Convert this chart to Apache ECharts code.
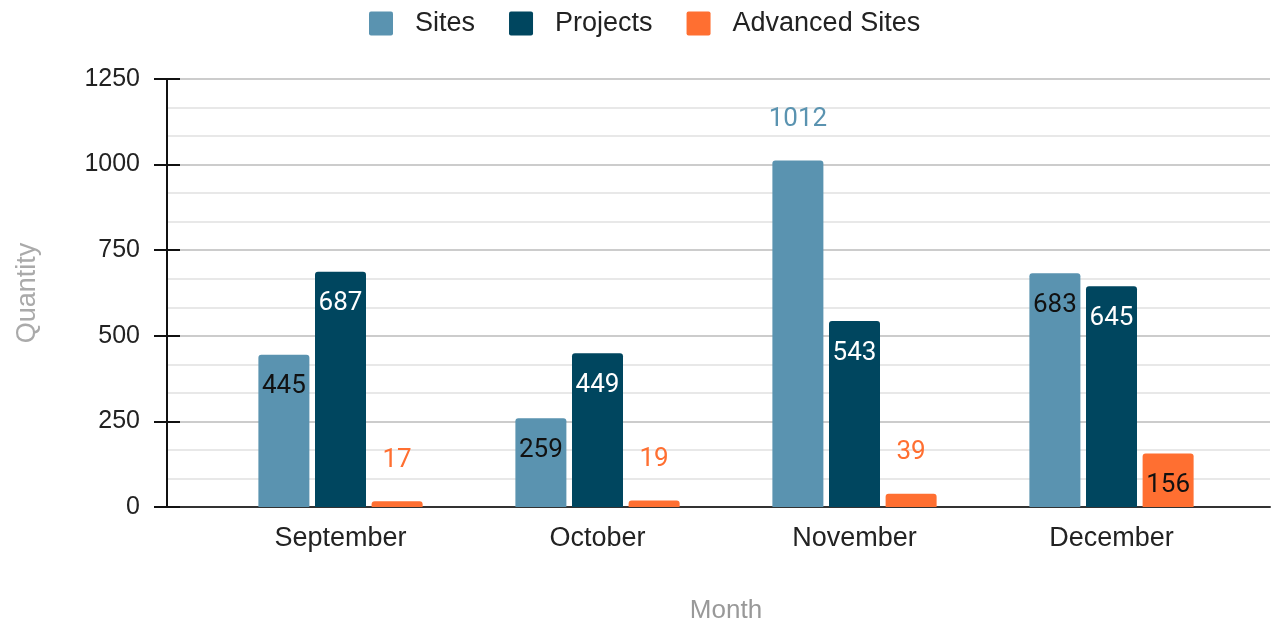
<!DOCTYPE html>
<html>
<head>
<meta charset="utf-8">
<script src="https://cdn.jsdelivr.net/npm/echarts@6/dist/echarts.min.js"></script>
<style>
	html, body { margin: 0; padding: 0; background: #fff; }
	#chart { width: 1272px; height: 621px; }
</style>
</head>
<body>
<div id="chart"></div>
<script type="text/javascript">
	// data
	var months = ['September', 'October', 'November', 'December'];
	var sites = [445, 259, 1012, 683];
	var projects = [687, 449, 543, 645];
	var advancedSites = [17, 19, 39, 156];
	var yTicks = [0, 250, 500, 750, 1000, 1250];

	var colors = ['#5a93b0', '#00465f', '#ff6f31'];
	// which bars carry their label above instead of inside
	var outside = [[2], [], [0, 1, 2]];
	var insideColor = ['#111', '#fff', '#111'];
	var axisFont = 'Liberation Sans';

	function makeData(values, s) {
		return values.map(function (v, i) {
			if (outside[s].indexOf(i) >= 0) {
				return {
					value: v,
					label: { position: 'top', distance: 28, color: colors[s] }
				};
			}
			return v;
		});
	}

	function makeSeries(name, values, s) {
		return {
			name: name,
			type: 'bar',
			xAxisIndex: 1,
			yAxisIndex: 2,
			barWidth: 51,
			barGap: '11%',
			itemStyle: { color: colors[s], borderRadius: [3, 3, 0, 0] },
			label: {
				show: true,
				position: 'insideTop',
				distance: 19,
				fontSize: 26,
				fontFamily: 'Roboto',
				color: insideColor[s]
			},
			data: makeData(values, s)
		};
	}

	var chart = echarts.init(document.getElementById('chart'));
	var yMax = yTicks[yTicks.length - 1];
	var yStep = yTicks[1] - yTicks[0];

	chart.setOption({
		animation: false,
		textStyle: { fontFamily: axisFont },
		legend: {
			top: 5,
			left: 364,
			itemWidth: 24,
			itemHeight: 24,
			itemGap: 34,
			icon: 'path://M2,0H22Q24,0 24,2V22Q24,24 22,24H2Q0,24 0,22V2Q0,0 2,0Z',
			textStyle: { fontSize: 27, color: '#222', fontFamily: axisFont, padding: [0, 0, 0, 17] },
			data: ['Sites', 'Projects', 'Advanced Sites']
		},
		grid: [
			{ left: 167, right: 2, top: 79, bottom: 114, outerBoundsMode: 'none' },
			{ left: 212, right: 32, top: 79, bottom: 114, outerBoundsMode: 'none' }
		],
		xAxis: [
			{
				gridIndex: 0,
				type: 'category',
				data: months,
				axisLine: { lineStyle: { color: '#333', width: 2 } },
				axisTick: { show: false },
				axisLabel: { show: false }
			},
			{
				gridIndex: 1,
				type: 'category',
				data: months,
				axisLine: { show: false },
				axisTick: { show: false },
				axisLabel: { fontSize: 27, color: '#222', fontFamily: axisFont, margin: 18 },
				name: 'Month',
				nameLocation: 'middle',
				nameGap: 91,
				nameTextStyle: { fontSize: 26, color: '#999', fontFamily: axisFont }
			}
		],
		yAxis: [
			{
				gridIndex: 0,
				type: 'value',
				min: 0,
				max: yMax,
				interval: yStep,
				axisLine: { show: true, lineStyle: { color: '#111', width: 2 } },
				axisTick: { show: true, length: 13, lineStyle: { color: '#111', width: 2 } },
				axisLabel: {
					fontSize: 25, color: '#222', fontFamily: axisFont, margin: 27,
					formatter: function (v) { return String(v); }
				},
				splitLine: { lineStyle: { color: '#cccccc', width: 2 } },
				minorSplitLine: { show: true, lineStyle: { color: '#e8e8e8', width: 2 } },
				minorTick: { show: false, splitNumber: 3 },
				name: 'Quantity',
				nameLocation: 'middle',
				nameGap: 126,
				nameTextStyle: { fontSize: 27, color: '#aaa', fontFamily: axisFont }
			},
			{
				gridIndex: 0,
				type: 'value',
				position: 'left',
				min: 0,
				max: yMax,
				interval: yStep,
				axisLine: { show: false },
				axisTick: { show: true, inside: true, length: 13, lineStyle: { color: '#111', width: 2 } },
				axisLabel: { show: false },
				splitLine: { show: false }
			},
			{
				gridIndex: 1,
				type: 'value',
				min: 0,
				max: yMax,
				interval: yStep,
				show: false
			}
		],
		series: [
			makeSeries('Sites', sites, 0),
			makeSeries('Projects', projects, 1),
			makeSeries('Advanced Sites', advancedSites, 2)
		]
	});
</script>
</body>
</html>
